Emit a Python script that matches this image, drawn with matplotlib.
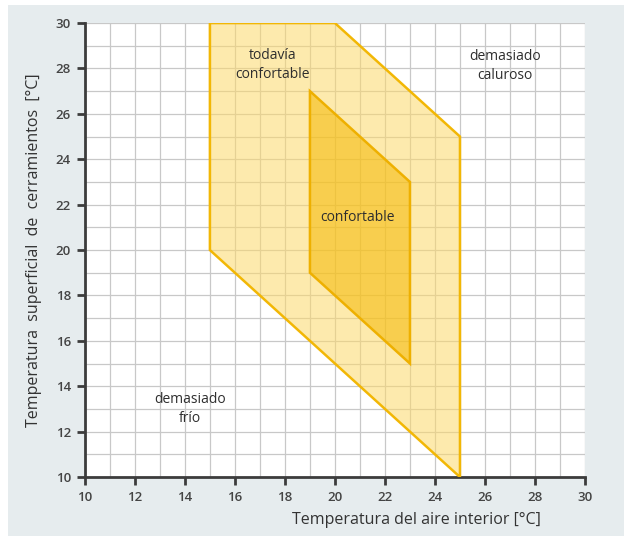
import matplotlib.pyplot as plt
from matplotlib.patches import Polygon, Rectangle

# zone boundaries (air temp, surface temp)
outer_x = [15, 20, 25, 25, 15]
outer_y = [30, 30, 25, 10, 20]
inner_x = [19, 23, 23, 19]
inner_y = [27, 23, 15, 19]

labels = ['todavía\nconfortable', 'confortable', 'demasiado\ncaluroso', 'demasiado\nfrío']
label_x = [17.5, 20.9, 26.8, 14.2]
label_y = [28.15, 21.45, 28.1, 13.0]

plt.rcParams['font.family'] = ['Open Sans', 'DejaVu Sans']

fig = plt.figure(figsize=(6.24, 5.36), dpi=100)
fig.patch.set_facecolor('white')
fig.patches.append(Rectangle((8 / 624, 0), 1, 1 - 5 / 536, transform=fig.transFigure,
                             facecolor='#e6ecee', edgecolor='none', zorder=-10))
ax = fig.add_axes([0.136, 0.110, 0.8015, 0.847])
ax.set_facecolor('white')

ax.add_patch(Polygon(list(zip(outer_x, outer_y)), closed=True, facecolor='#fdd96a', alpha=0.55,
                     edgecolor='none', zorder=2))
ax.add_patch(Polygon(list(zip(outer_x, outer_y)), closed=True, fill=False,
                     edgecolor='#f2b705', lw=1.8, zorder=4))
ax.add_patch(Polygon(list(zip(inner_x, inner_y)), closed=True, facecolor='#f5b800', alpha=0.55,
                     edgecolor='none', zorder=3))
ax.add_patch(Polygon(list(zip(inner_x, inner_y)), closed=True, fill=False,
                     edgecolor='#eeb000', lw=1.8, zorder=4))

for t, x, y in zip(labels, label_x, label_y):
    ax.text(x, y, t, ha='center', va='center', fontsize=10, color='#2e2e2e',
            fontweight='medium', linespacing=1.35, zorder=5)

ax.set_xlim(10, 30)
ax.set_ylim(10, 30)
ax.set_xticks(range(10, 31, 2))
ax.set_yticks(range(10, 31, 2))
ax.set_xticks(range(10, 31), minor=True)
ax.set_yticks(range(10, 31), minor=True)
ax.grid(which='both', color='#c8c8c8', lw=0.9, zorder=1)
ax.set_axisbelow(True)

for s in ['top', 'right']:
    ax.spines[s].set_visible(False)
for s in ['left', 'bottom']:
    ax.spines[s].set_color('#3c3c3c')
    ax.spines[s].set_linewidth(2)
ax.tick_params(which='major', direction='out', length=6, width=2, color='#3c3c3c',
               labelsize=9.5, labelcolor='#444444', pad=4)
for lbl in ax.get_xticklabels() + ax.get_yticklabels():
    lbl.set_fontweight('semibold')
ax.tick_params(which='minor', length=0)

ax.set_xlabel('Temperatura del aire interior [°C]', fontsize=11.5, color='#333333')
ax.xaxis.set_label_coords(0.662, -0.078)
ax.set_ylabel('Temperatura  superficial  de  cerramientos  [°C]', fontsize=11.5, color='#333333',
              labelpad=10)

fig.savefig('out.png', dpi=100, facecolor=fig.get_facecolor())
